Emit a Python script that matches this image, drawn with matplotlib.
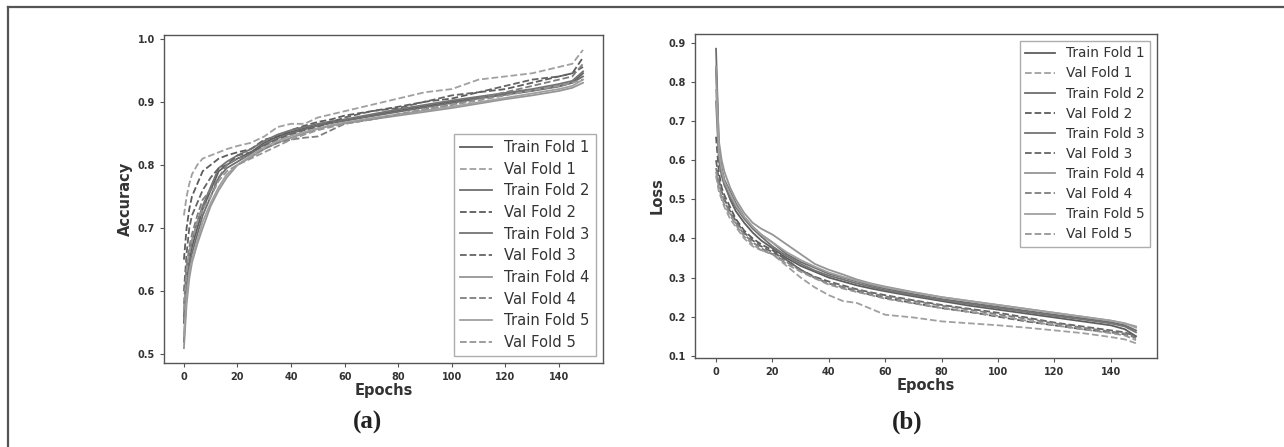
import matplotlib
matplotlib.use("Agg")
import matplotlib.pyplot as plt
from matplotlib.lines import Line2D

# ---------------- data ----------------
epochs = [0, 1, 2, 3, 5, 7, 10, 13, 16, 20, 25, 30, 35, 40, 45, 50, 55, 60,
          70, 80, 90, 100, 110, 120, 130, 140, 145, 149]

acc_train_1 = [0.55, 0.62, 0.65, 0.67, 0.70, 0.73, 0.76, 0.79, 0.80, 0.81, 0.82, 0.835, 0.845, 0.852, 0.858, 0.863, 0.867, 0.870, 0.878, 0.886, 0.893, 0.900, 0.906, 0.912, 0.918, 0.925, 0.930, 0.945]
acc_val_1 = [0.72, 0.75, 0.77, 0.785, 0.80, 0.81, 0.815, 0.82, 0.825, 0.83, 0.835, 0.845, 0.86, 0.865, 0.865, 0.875, 0.88, 0.885, 0.895, 0.905, 0.915, 0.92, 0.935, 0.94, 0.945, 0.955, 0.96, 0.982]
acc_train_2 = [0.52, 0.60, 0.64, 0.66, 0.69, 0.72, 0.75, 0.78, 0.795, 0.805, 0.818, 0.832, 0.842, 0.85, 0.856, 0.862, 0.866, 0.870, 0.877, 0.884, 0.891, 0.898, 0.905, 0.911, 0.917, 0.924, 0.930, 0.940]
acc_val_2 = [0.65, 0.70, 0.73, 0.75, 0.77, 0.79, 0.80, 0.81, 0.815, 0.82, 0.825, 0.84, 0.845, 0.855, 0.862, 0.868, 0.872, 0.878, 0.885, 0.892, 0.90, 0.905, 0.915, 0.92, 0.93, 0.94, 0.945, 0.97]
acc_train_3 = [0.56, 0.63, 0.66, 0.68, 0.71, 0.735, 0.765, 0.795, 0.805, 0.815, 0.825, 0.838, 0.848, 0.855, 0.86, 0.865, 0.869, 0.872, 0.880, 0.888, 0.895, 0.902, 0.908, 0.914, 0.92, 0.928, 0.933, 0.948]
acc_val_3 = [0.60, 0.66, 0.70, 0.72, 0.74, 0.76, 0.78, 0.795, 0.80, 0.815, 0.82, 0.83, 0.84, 0.848, 0.855, 0.86, 0.868, 0.875, 0.885, 0.89, 0.90, 0.91, 0.915, 0.925, 0.935, 0.94, 0.945, 0.955]
acc_train_4 = [0.51, 0.58, 0.62, 0.645, 0.675, 0.70, 0.735, 0.76, 0.78, 0.80, 0.812, 0.825, 0.835, 0.843, 0.85, 0.857, 0.862, 0.866, 0.872, 0.878, 0.884, 0.890, 0.897, 0.904, 0.910, 0.917, 0.922, 0.930]
acc_val_4 = [0.58, 0.64, 0.67, 0.69, 0.72, 0.745, 0.76, 0.78, 0.80, 0.81, 0.815, 0.826, 0.835, 0.84, 0.843, 0.845, 0.855, 0.865, 0.872, 0.88, 0.888, 0.895, 0.905, 0.915, 0.925, 0.935, 0.94, 0.96]
acc_train_5 = [0.53, 0.59, 0.63, 0.65, 0.68, 0.71, 0.74, 0.765, 0.785, 0.80, 0.815, 0.828, 0.838, 0.846, 0.852, 0.858, 0.863, 0.867, 0.874, 0.880, 0.886, 0.892, 0.899, 0.906, 0.913, 0.92, 0.925, 0.935]
acc_val_5 = [0.57, 0.63, 0.66, 0.68, 0.71, 0.73, 0.75, 0.775, 0.79, 0.80, 0.81, 0.82, 0.83, 0.84, 0.848, 0.855, 0.86, 0.865, 0.872, 0.88, 0.888, 0.895, 0.902, 0.91, 0.918, 0.925, 0.93, 0.935]

loss_train_1 = [0.835, 0.62, 0.57, 0.54, 0.50, 0.47, 0.44, 0.415, 0.395, 0.375, 0.35, 0.33, 0.315, 0.30, 0.29, 0.28, 0.272, 0.265, 0.252, 0.240, 0.228, 0.218, 0.208, 0.198, 0.188, 0.178, 0.168, 0.150]
loss_val_1 = [0.56, 0.52, 0.50, 0.48, 0.45, 0.43, 0.40, 0.38, 0.37, 0.36, 0.33, 0.30, 0.275, 0.255, 0.24, 0.235, 0.22, 0.205, 0.198, 0.188, 0.183, 0.178, 0.172, 0.165, 0.158, 0.148, 0.142, 0.132]
loss_train_2 = [0.885, 0.64, 0.58, 0.55, 0.52, 0.49, 0.455, 0.43, 0.41, 0.39, 0.36, 0.34, 0.325, 0.31, 0.30, 0.29, 0.28, 0.272, 0.258, 0.245, 0.235, 0.225, 0.215, 0.205, 0.196, 0.186, 0.178, 0.165]
loss_val_2 = [0.66, 0.57, 0.53, 0.51, 0.48, 0.45, 0.42, 0.40, 0.385, 0.37, 0.345, 0.32, 0.30, 0.285, 0.275, 0.265, 0.256, 0.248, 0.235, 0.222, 0.212, 0.200, 0.188, 0.178, 0.168, 0.16, 0.155, 0.148]
loss_train_3 = [0.75, 0.60, 0.56, 0.535, 0.505, 0.48, 0.45, 0.425, 0.405, 0.38, 0.355, 0.335, 0.318, 0.305, 0.295, 0.285, 0.276, 0.268, 0.255, 0.243, 0.232, 0.222, 0.212, 0.202, 0.193, 0.183, 0.175, 0.16]
loss_val_3 = [0.60, 0.55, 0.52, 0.50, 0.47, 0.445, 0.415, 0.395, 0.38, 0.365, 0.345, 0.32, 0.302, 0.29, 0.28, 0.27, 0.262, 0.255, 0.242, 0.23, 0.22, 0.21, 0.198, 0.185, 0.175, 0.165, 0.16, 0.15]
loss_train_4 = [0.84, 0.65, 0.60, 0.57, 0.53, 0.50, 0.465, 0.44, 0.425, 0.41, 0.385, 0.36, 0.335, 0.32, 0.308, 0.295, 0.285, 0.277, 0.263, 0.25, 0.24, 0.23, 0.22, 0.21, 0.20, 0.19, 0.183, 0.175]
loss_val_4 = [0.58, 0.54, 0.515, 0.495, 0.465, 0.44, 0.41, 0.39, 0.375, 0.36, 0.34, 0.318, 0.30, 0.285, 0.276, 0.268, 0.26, 0.252, 0.24, 0.228, 0.218, 0.206, 0.195, 0.183, 0.172, 0.162, 0.157, 0.145]
loss_train_5 = [0.78, 0.62, 0.575, 0.545, 0.515, 0.485, 0.455, 0.43, 0.41, 0.39, 0.365, 0.345, 0.328, 0.313, 0.302, 0.292, 0.283, 0.275, 0.262, 0.25, 0.24, 0.23, 0.22, 0.21, 0.20, 0.19, 0.183, 0.172]
loss_val_5 = [0.57, 0.53, 0.505, 0.485, 0.46, 0.435, 0.405, 0.385, 0.37, 0.36, 0.335, 0.315, 0.298, 0.282, 0.272, 0.263, 0.255, 0.246, 0.234, 0.222, 0.212, 0.202, 0.19, 0.178, 0.168, 0.158, 0.152, 0.14]

acc_train = [acc_train_1, acc_train_2, acc_train_3, acc_train_4, acc_train_5]
acc_val = [acc_val_1, acc_val_2, acc_val_3, acc_val_4, acc_val_5]
loss_train = [loss_train_1, loss_train_2, loss_train_3, loss_train_4, loss_train_5]
loss_val = [loss_val_1, loss_val_2, loss_val_3, loss_val_4, loss_val_5]

fold_names = ["1", "2", "3", "4", "5"]
train_colors = ["#5e5e5e", "#6e6e6e", "#747474", "#959595", "#a0a0a0"]
val_colors = ["#a0a0a0", "#5c5c5c", "#646464", "#7f7f7f", "#959595"]

TEXT = "#333333"
SPINE = "#555555"

fig = plt.figure(figsize=(12.84, 4.47), dpi=100)
fig.patch.set_facecolor("white")

ax_a = fig.add_axes([0.1277, 0.1879, 0.3419, 0.7338])
ax_b = fig.add_axes([0.5413, 0.1991, 0.3598, 0.7248])


def draw(ax, train, val, ylabel, loc, legsize):
    for i in range(5):
        ax.plot(epochs, train[i], color=train_colors[i], lw=1.3, ls="-",
                label=f"Train Fold {fold_names[i]}")
        ax.plot(epochs, val[i], color=val_colors[i], lw=1.3, ls="--",
                label=f"Val Fold {fold_names[i]}")
    ax.set_xticks([0, 20, 40, 60, 80, 100, 120, 140])
    ax.tick_params(labelsize=7, colors=SPINE, labelcolor=TEXT, length=3)
    for lab in ax.get_xticklabels() + ax.get_yticklabels():
        lab.set_fontweight("bold")
    for s in ax.spines.values():
        s.set_color(SPINE)
        s.set_linewidth(1.0)
    ax.set_xlabel("Epochs", fontsize=10.5, fontweight="bold", color=TEXT, labelpad=1)
    ax.set_ylabel(ylabel, fontsize=10.5, fontweight="bold", color=TEXT, labelpad=3)
    leg = ax.legend(loc=loc, fontsize=legsize, frameon=True, fancybox=False,
                    edgecolor="#999999", labelspacing=0.45,
                    handlelength=2.2, borderaxespad=0.5)
    for t in leg.get_texts():
        t.set_color(TEXT)


draw(ax_a, acc_train, acc_val, "Accuracy", "lower right", 10.6)
draw(ax_b, loss_train, loss_val, "Loss", "upper right", 9.8)
ax_a.set_yticks([0.5, 0.6, 0.7, 0.8, 0.9, 1.0])
ax_b.set_yticks([0.1, 0.2, 0.3, 0.4, 0.5, 0.6, 0.7, 0.8, 0.9])

fig.text(368 / 1284, 1 - 422 / 447, "(a)", ha="center", va="center",
         fontsize=18, fontweight="bold", family="Liberation Serif", color="#222222")
fig.text(907 / 1284, 1 - 422 / 447, "(b)", ha="center", va="center",
         fontsize=18, fontweight="bold", family="Liberation Serif", color="#222222")

# outer frame (top and left edges)
fig.add_artist(Line2D([7.5 / 1284, 1.0], [1 - 6.5 / 447, 1 - 6.5 / 447],
                      transform=fig.transFigure, color="#555555", lw=1.6))
fig.add_artist(Line2D([7.5 / 1284, 7.5 / 1284], [0.0, 1 - 6.5 / 447],
                      transform=fig.transFigure, color="#555555", lw=1.6))

fig.savefig("out.png", dpi=100)
